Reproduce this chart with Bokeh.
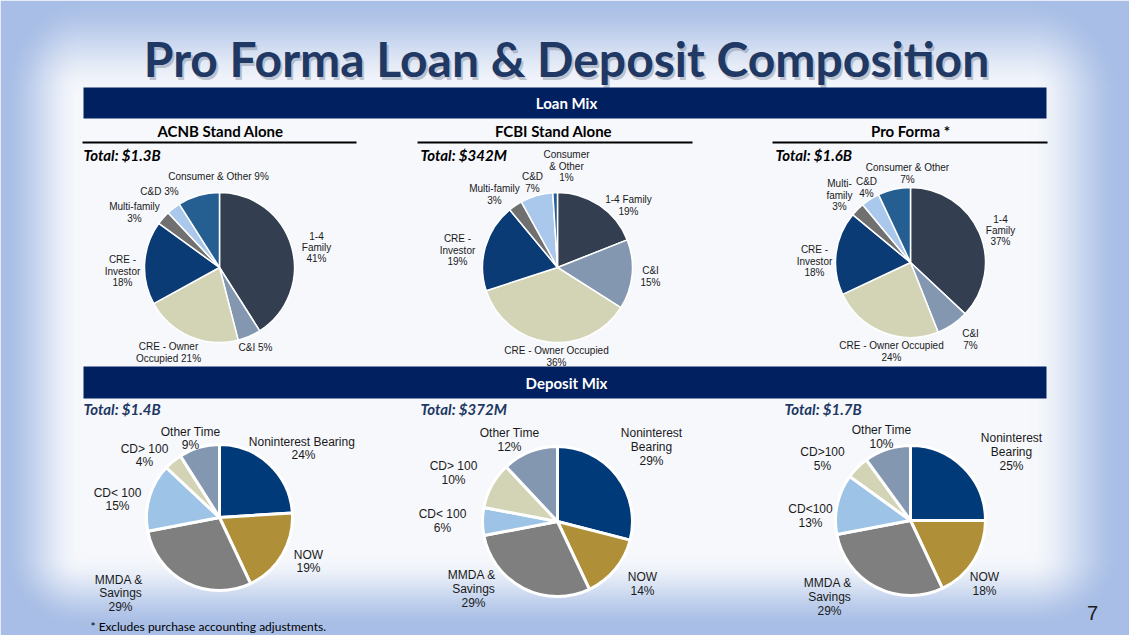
import numpy as np
from bokeh.plotting import figure
from bokeh.models import Range1d
from bokeh.embed import file_html
from bokeh.resources import INLINE
from bokeh.core.properties import value

# ---------------- data ----------------
LOAN_CATEGORIES = ["1-4 Family", "C&I", "CRE - Owner Occupied", "CRE - Investor",
                   "Multi-family", "C&D", "Consumer & Other"]
ACNB_LOANS = [41, 5, 21, 18, 3, 3, 9]
FCBI_LOANS = [19, 15, 36, 19, 3, 7, 1]
PROFORMA_LOANS = [37, 7, 24, 18, 3, 4, 7]

DEPOSIT_CATEGORIES = ["Noninterest Bearing", "NOW", "MMDA & Savings", "CD<100", "CD>100", "Other Time"]
ACNB_DEPOSITS = [24, 19, 29, 15, 4, 9]
FCBI_DEPOSITS = [29, 14, 29, 6, 10, 12]
PROFORMA_DEPOSITS = [25, 18, 29, 13, 5, 10]

COLUMN_TITLES = ["ACNB Stand Alone", "FCBI Stand Alone", "Pro Forma *"]
LOAN_TOTALS = ["Total: $1.3B", "Total: $342M", "Total: $1.6B"]
DEPOSIT_TOTALS = ["Total: $1.4B", "Total: $372M", "Total: $1.7B"]

# label templates (line breaks as on the slide)
ACNB_LOAN_LABELS = ["1-4\nFamily\n{}%", "C&I {}%", "CRE - Owner\nOccupied {}%", "CRE -\nInvestor\n{}%",
                    "Multi-family\n{}%", "C&D {}%", "Consumer & Other {}%"]
FCBI_LOAN_LABELS = ["1-4 Family\n{}%", "C&I\n{}%", "CRE - Owner Occupied\n{}%", "CRE -\nInvestor\n{}%",
                    "Multi-family\n{}%", "C&D\n{}%", "Consumer\n& Other\n{}%"]
PROFORMA_LOAN_LABELS = ["1-4\nFamily\n{}%", "C&I\n{}%", "CRE - Owner Occupied\n{}%", "CRE -\nInvestor\n{}%",
                        "Multi-\nfamily\n{}%", "C&D\n{}%", "Consumer & Other\n{}%"]
ACNB_DEP_LABELS = ["Noninterest  Bearing\n{}%", "NOW\n{}%", "MMDA  &\nSavings\n{}%", "CD< 100\n{}%",
                   "CD> 100\n{}%", "Other Time\n{}%"]
FCBI_DEP_LABELS = ["Noninterest\nBearing\n{}%", "NOW\n{}%", "MMDA  &\nSavings\n{}%", "CD< 100\n{}%",
                   "CD> 100\n{}%", "Other Time\n{}%"]
PROFORMA_DEP_LABELS = ["Noninterest\nBearing\n{}%", "NOW\n{}%", "MMDA  &\nSavings\n{}%", "CD<100\n{}%",
                       "CD>100\n{}%", "Other Time\n{}%"]

# ---------------- styles / layout ----------------
LOAN_COLORS = ["#333F50", "#8497B0", "#D3D3B6", "#0B3B75", "#707070", "#A9C8EC", "#255E91"]
DEP_COLORS = ["#003A78", "#AF8F38", "#7F7F7F", "#9DC3E6", "#D3D3B6", "#8497B0"]
NAVY = "#1F3864"

W, H = 1129, 635
PAGE_H = 635


def Y(yref):
    return PAGE_H - yref


p = figure(width=W, height=H, x_range=Range1d(0, W), y_range=Range1d(0, H),
           output_backend="svg", toolbar_location=None, min_border=0,
           x_axis_type=None, y_axis_type=None)
p.grid.visible = False
p.outline_line_color = None
p.background_fill_color = "#F5F7FB"
p.border_fill_color = "#F5F7FB"

# ---- background vignette ----
gw, gh = 565, 318
xs = np.linspace(0, W, gw)
ys_ref = H - (np.arange(gh) + 0.5) * H / gh
X, YR = np.meshgrid(xs, ys_ref)
dl = np.clip((80 - X) / 80, 0, 1)
dr = np.clip((X - 1030) / 95, 0, 1)
dt = np.clip((95 - YR) / 100, 0, 1)
db = np.clip((YR - 555) / 75, 0, 1)
t = np.clip(np.sqrt(np.maximum(dl, dr) ** 2 + np.maximum(dt, db) ** 2), 0, 1)
t = t * t * (3 - 2 * t)
edge = np.array([168, 190, 230])
center = np.array([246, 248, 252])
rgb = center[None, None, :] * (1 - t[..., None]) + edge[None, None, :] * t[..., None]
img = np.empty((gh, gw), dtype=np.uint32)
view = img.view(dtype=np.uint8).reshape((gh, gw, 4))
view[..., 0] = rgb[..., 0].astype(np.uint8)
view[..., 1] = rgb[..., 1].astype(np.uint8)
view[..., 2] = rgb[..., 2].astype(np.uint8)
view[..., 3] = 255
p.image_rgba(image=[img], x=0, y=0, dw=W, dh=H)

# ---- title ----
TITLE = "Pro Forma Loan & Deposit Composition"
p.text(x=[568], y=[Y(61)], text=[TITLE], text_align="center", text_baseline="middle",
       text_font=value("Lato"), text_font_style="bold", text_font_size="48px",
       text_color="#7E889A", text_alpha=0.45)
p.text(x=[566], y=[Y(58)], text=[TITLE], text_align="center", text_baseline="middle",
       text_font=value("Lato"), text_font_style="bold", text_font_size="48px",
       text_color=NAVY)

# ---- section bars ----
for label, top, bot in [("Loan Mix", 87, 118), ("Deposit Mix", 366, 398)]:
    p.quad(left=[83], right=[1046], top=[Y(top)], bottom=[Y(bot)], fill_color="#002060", line_color=None)
    p.text(x=[566], y=[Y((top + bot) / 2)], text=[label], text_align="center", text_baseline="middle",
           text_font=value("Lato"), text_font_style="bold", text_font_size="15px", text_color="white")

# ---- column headers ----
HEAD_X = [220, 553, 910]
UL_X0 = [82, 417, 772]
UL_X1 = [356, 692, 1047]
p.text(x=HEAD_X, y=[Y(130)] * 3, text=COLUMN_TITLES, text_align="center", text_baseline="middle",
       text_font=value("Lato"), text_font_style="bold", text_font_size="15px", text_color="black")
p.segment(x0=UL_X0, x1=UL_X1, y0=[Y(142)] * 3, y1=[Y(142)] * 3, line_color="black", line_width=2)

p.text(x=[83, 420, 775], y=[Y(154)] * 3, text=LOAN_TOTALS, text_align="left", text_baseline="middle",
       text_font=value("Lato"), text_font_style="bold italic", text_font_size="15px", text_color="black")
p.text(x=[83, 420, 784], y=[Y(408)] * 3, text=DEPOSIT_TOTALS, text_align="left", text_baseline="middle",
       text_font=value("Lato"), text_font_style="bold italic", text_font_size="15px", text_color=NAVY)


def draw_pie(vals, colors, cx, cy, r, lw):
    vals = np.asarray(vals, dtype=float)
    cum = np.concatenate([[0], np.cumsum(vals)]) / vals.sum()
    start = np.pi / 2 - 2 * np.pi * cum[:-1]
    end = np.pi / 2 - 2 * np.pi * cum[1:]
    p.wedge(x=[cx] * len(vals), y=[Y(cy)] * len(vals), radius=r, start_angle=list(start),
            end_angle=list(end), direction="clock", fill_color=colors, line_color="white",
            line_width=lw)


def draw_labels(templates, vals, positions, size, lh):
    xs_, ys_, ts_ = [], [], []
    for tpl, v, (x, y) in zip(templates, vals, positions):
        lines = tpl.format(v).split("\n")
        for i, ln in enumerate(lines):
            xs_.append(x)
            ys_.append(Y(y + i * lh))
            ts_.append(ln)
    p.text(x=xs_, y=ys_, text=ts_, text_align="center", text_baseline="middle",
           text_font=value("Liberation Sans"), text_font_size=size, text_color="#1A1A1A")


# loan pies
draw_pie(ACNB_LOANS, LOAN_COLORS, 219, 267, 75, 1.5)
draw_pie(FCBI_LOANS, LOAN_COLORS, 557, 267, 75, 1.5)
draw_pie(PROFORMA_LOANS, LOAN_COLORS, 910, 262, 75, 1.5)

draw_labels(ACNB_LOAN_LABELS, ACNB_LOANS,
            [(316, 235), (255, 347), (168, 346), (122, 259), (134, 206), (159, 191), (218, 176)],
            "10px", 11.7)
draw_labels(FCBI_LOAN_LABELS, FCBI_LOANS,
            [(628, 199), (650, 270), (556, 350), (457, 238), (494, 188), (532, 176), (566, 154)],
            "10px", 11.7)
draw_labels(PROFORMA_LOAN_LABELS, PROFORMA_LOANS,
            [(1000, 218), (970, 333), (891, 345), (814, 249), (839, 183), (866, 181), (907, 167)],
            "10px", 11.7)

# deposit pies
draw_pie(ACNB_DEPOSITS, DEP_COLORS, 219, 517, 73, 3)
draw_pie(FCBI_DEPOSITS, DEP_COLORS, 557, 521, 75, 3)
draw_pie(PROFORMA_DEPOSITS, DEP_COLORS, 910, 520, 75, 3)

draw_labels(ACNB_DEP_LABELS, ACNB_DEPOSITS,
            [(303, 441), (308, 554), (120, 579), (117, 492), (144, 448), (190, 431)],
            "12px", 13.8)
draw_labels(FCBI_DEP_LABELS, FCBI_DEPOSITS,
            [(651, 432), (642, 576), (473, 574), (442, 513), (453, 465), (509, 432)],
            "12px", 14.3)
draw_labels(PROFORMA_DEP_LABELS, PROFORMA_DEPOSITS,
            [(1011, 437), (984, 576), (829, 582), (810, 508), (822, 451), (881, 429)],
            "12px", 14.0)

# footnote and page number
p.text(x=[90], y=[Y(626)], text=["* Excludes purchase accounting adjustments."], text_align="left",
       text_baseline="middle", text_font=value("Lato"), text_font_size="12px", text_color="black")
p.text(x=[1092], y=[Y(612)], text=["7"], text_align="center", text_baseline="middle",
       text_font=value("Liberation Sans"), text_font_size="20px", text_color="#1A1A1A")

open("out.html", "w").write(file_html(p, INLINE))
